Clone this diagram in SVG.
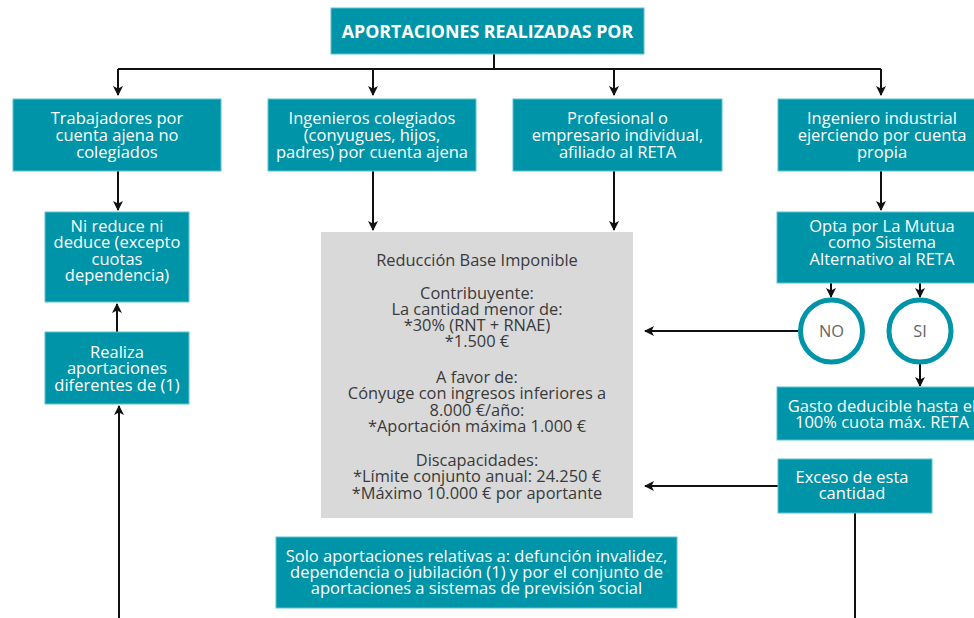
<svg xmlns="http://www.w3.org/2000/svg" width="974" height="618" viewBox="0 0 974 618">
<defs>
<marker id="arr" markerUnits="userSpaceOnUse" markerWidth="12" markerHeight="12" refX="9" refY="5" orient="auto">
<path d="M0,0 L10,5 L0,10 L2.5,5 z" fill="#111"/>
</marker>
<style>
.box{fill:#0094a8;stroke:#5cc3d0;stroke-width:1}
.t{font-family:"Open Sans","Liberation Sans",sans-serif;font-size:16.5px;fill:#ffffff;text-anchor:middle}
.g{font-family:"Open Sans","Liberation Sans",sans-serif;font-size:16.4px;fill:#3a3a3a;text-anchor:middle}
.c{fill:none;stroke:#111;stroke-width:2}
.a{marker-end:url(#arr)}
.circ{fill:#ffffff;stroke:#0094a8;stroke-width:5}
</style>
</defs>
<rect width="974" height="618" fill="#ffffff"/>
<g id="connectors">
<path class="c" d="M494,54 V69 M118,69 H881"/>
<path class="c a" d="M118,69 V95"/>
<path class="c a" d="M373,69 V95"/>
<path class="c a" d="M614,69 V95"/>
<path class="c a" d="M881,69 V95"/>
<path class="c a" d="M118,171 V210"/>
<path class="c a" d="M117,332 V304"/>
<path class="c a" d="M119,618 V406"/>
<path class="c a" d="M373,171 V230"/>
<path class="c a" d="M614,171 V230"/>
<path class="c a" d="M881,171 V210"/>
<path class="c a" d="M831,283 V297"/>
<path class="c a" d="M920,283 V297"/>
<path class="c a" d="M798,331 H645"/>
<path class="c a" d="M920,364 V386"/>
<path class="c a" d="M778,486 H645"/>
<path class="c" d="M855,513 V618"/>
</g>
<g id="title">
<rect class="box" x="331" y="8" width="313" height="46"/>
<text x="487.5" y="38" class="t" style="font-weight:bold;font-size:17.8px">APORTACIONES REALIZADAS POR</text>
</g>
<g id="n1">
<rect class="box" x="13" y="99" width="208" height="72"/>
<text class="t"><tspan x="117" y="124">Trabajadores por</tspan><tspan x="117" y="141">cuenta ajena no</tspan><tspan x="117" y="157.5">colegiados</tspan></text>
</g>
<g id="n2">
<rect class="box" x="268" y="99" width="208" height="72"/>
<text class="t"><tspan x="372" y="124">Ingenieros colegiados</tspan><tspan x="372" y="141">(conyugues, hijos,</tspan><tspan x="372" y="157.5">padres) por cuenta ajena</tspan></text>
</g>
<g id="n3">
<rect class="box" x="513" y="99" width="209" height="72"/>
<text class="t"><tspan x="617.5" y="124">Profesional o</tspan><tspan x="617.5" y="141">empresario individual,</tspan><tspan x="617.5" y="157.5">afiliado al RETA</tspan></text>
</g>
<g id="n4">
<rect class="box" x="778" y="99" width="208" height="72"/>
<text class="t"><tspan x="882" y="124">Ingeniero industrial</tspan><tspan x="882" y="141">ejerciendo por cuenta</tspan><tspan x="882" y="157.5">propia</tspan></text>
</g>
<g id="n5">
<rect class="box" x="45" y="212" width="144" height="90"/>
<text class="t"><tspan x="117" y="231.5">Ni reduce ni</tspan><tspan x="117" y="248">deduce (excepto</tspan><tspan x="117" y="264.5">cuotas</tspan><tspan x="117" y="281">dependencia)</tspan></text>
</g>
<g id="n6">
<rect class="box" x="45" y="332" width="144" height="72"/>
<text class="t"><tspan x="117" y="357.5">Realiza</tspan><tspan x="117" y="374">aportaciones</tspan><tspan x="117" y="390.5">diferentes de (1)</tspan></text>
</g>
<g id="n7">
<rect x="321" y="232" width="312" height="286" fill="#d9d9d9"/>
<text class="g"><tspan x="477" y="266">Reducción Base Imponible</tspan><tspan x="477" y="298.5">Contribuyente:</tspan><tspan x="477" y="314.5">La cantidad menor de:</tspan><tspan x="477" y="331">*30% (RNT + RNAE)</tspan><tspan x="477" y="347">*1.500 €</tspan><tspan x="477" y="382.5">A favor de:</tspan><tspan x="477" y="399">Cónyuge con ingresos inferiores a</tspan><tspan x="477" y="415.5">8.000 €/año:</tspan><tspan x="477" y="431.5">*Aportación máxima 1.000 €</tspan><tspan x="477" y="466">Discapacidades:</tspan><tspan x="477" y="482">*Límite conjunto anual: 24.250 €</tspan><tspan x="477" y="498.5">*Máximo 10.000 € por aportante</tspan></text>
</g>
<g id="n8">
<rect class="box" x="777" y="212" width="209" height="71"/>
<text class="t"><tspan x="882" y="231.5">Opta por La Mutua</tspan><tspan x="882" y="248">como Sistema</tspan><tspan x="882" y="265">Alternativo al RETA</tspan></text>
</g>
<g id="no">
<circle class="circ" cx="831.5" cy="331" r="31"/>
<text x="831.5" y="337" class="g" style="fill:#666">NO</text>
</g>
<g id="si">
<circle class="circ" cx="920" cy="331" r="31"/>
<text x="920" y="337" class="g" style="fill:#666">SI</text>
</g>
<g id="n9">
<rect class="box" x="777" y="387" width="209" height="53"/>
<text class="t"><tspan x="882" y="411.5">Gasto deducible hasta el</tspan><tspan x="882" y="428">100% cuota máx. RETA</tspan></text>
</g>
<g id="n10">
<rect class="box" x="778" y="459" width="154" height="54"/>
<text class="t"><tspan x="852" y="482.5">Exceso de esta</tspan><tspan x="852" y="499">cantidad</tspan></text>
</g>
<g id="n11">
<rect class="box" x="276" y="537" width="401" height="71"/>
<text class="t"><tspan x="476.5" y="561.5">Solo aportaciones relativas a: defunción invalidez,</tspan><tspan x="476.5" y="578">dependencia o jubilación (1) y por el conjunto de</tspan><tspan x="476.5" y="594">aportaciones a sistemas de previsión social</tspan></text>
</g>
</svg>
